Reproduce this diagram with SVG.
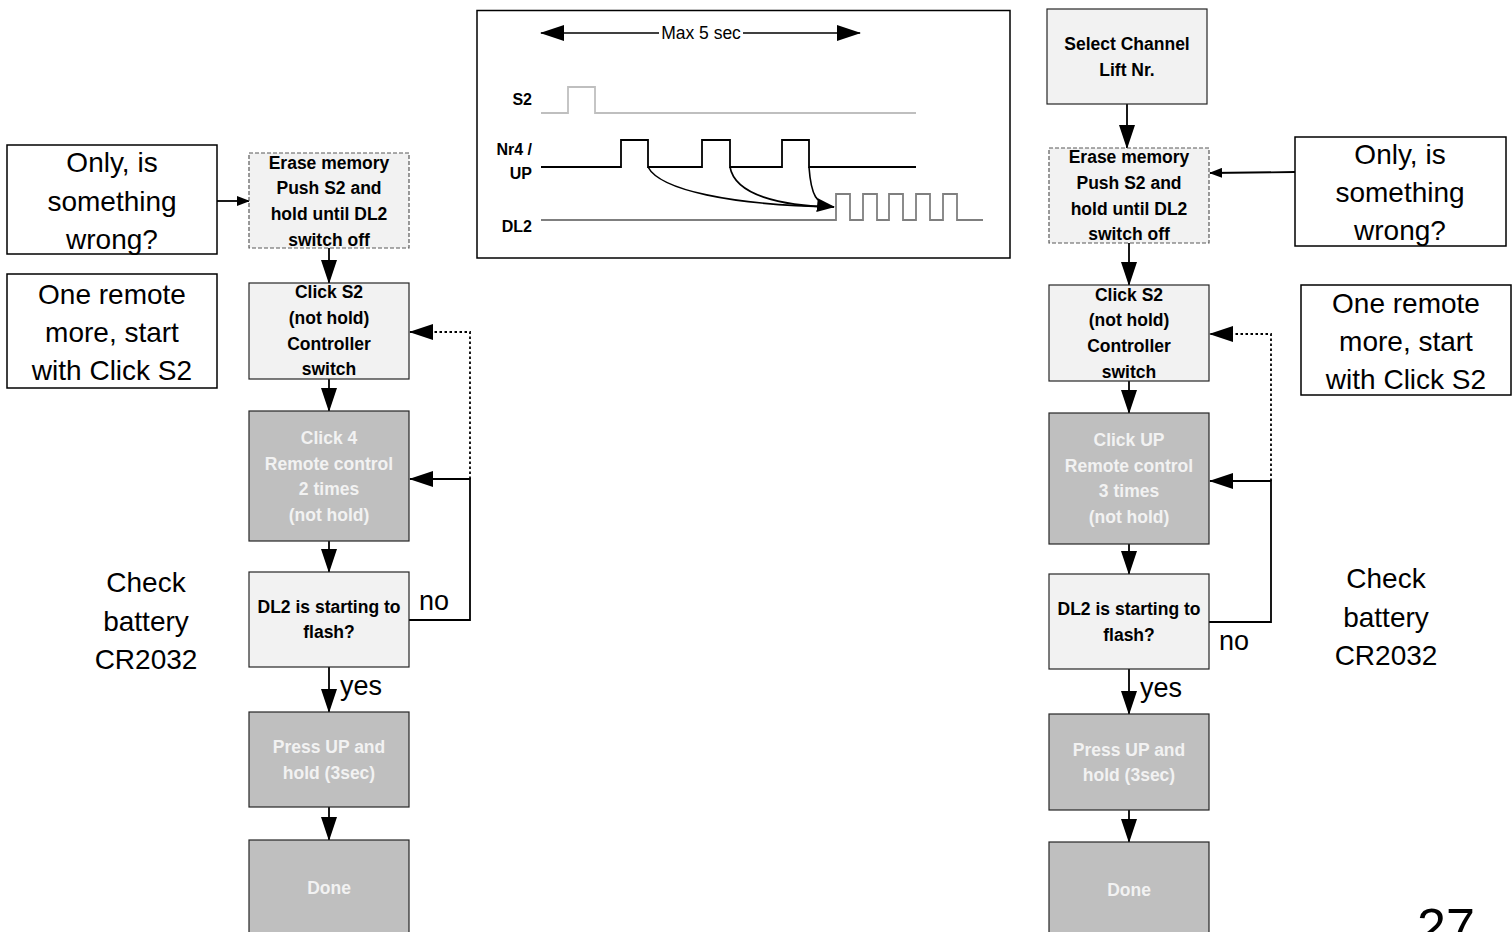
<svg xmlns="http://www.w3.org/2000/svg" width="1512" height="932" viewBox="0 0 1512 932">
<defs>
<marker id="big" markerUnits="userSpaceOnUse" markerWidth="24" markerHeight="16" refX="23" refY="8" orient="auto-start-reverse"><path d="M0,0 L24,8 L0,16 z" fill="#000"/></marker>
<marker id="small" markerUnits="userSpaceOnUse" markerWidth="13" markerHeight="10" refX="12" refY="5" orient="auto"><path d="M0,0 L13,5 L0,10 z" fill="#000"/></marker>
<marker id="mid" markerUnits="userSpaceOnUse" markerWidth="18" markerHeight="14" refX="17" refY="7" orient="auto"><path d="M0,0 L18,7 L0,14 z" fill="#000"/></marker>
<style>
.lt{fill:#f2f2f2;stroke:#262626;stroke-width:1.2}
.dk{fill:#bfbfbf;stroke:#262626;stroke-width:1.2}
.dash{fill:#f2f2f2;stroke:#595959;stroke-width:1.2;stroke-dasharray:4 2}
.note{fill:#fff;stroke:#000;stroke-width:1.5}
.bt{font-family:"Liberation Sans",Arial,sans-serif;font-weight:bold;font-size:17.5px;text-anchor:middle;fill:#000}
.wt{font-family:"Liberation Sans",Arial,sans-serif;font-weight:bold;font-size:17.5px;text-anchor:middle;fill:#f2f2f2}
.big{font-family:"Liberation Sans",Arial,sans-serif;font-size:28px;text-anchor:middle;fill:#000}
.lbl{font-family:"Liberation Sans",Arial,sans-serif;font-size:27px;fill:#000}
.tl{font-family:"Liberation Sans",Arial,sans-serif;font-weight:bold;font-size:16px;text-anchor:end;fill:#000}
.ln{fill:none;stroke:#000;stroke-width:1.8}
.dot{fill:none;stroke:#000;stroke-width:1.8;stroke-dasharray:2.5 2.5}
</style>
</defs>

<g id="timing">
<rect x="477" y="10.5" width="533" height="247.5" fill="#fff" stroke="#000" stroke-width="1.5"/>
<line x1="541" y1="33" x2="659" y2="33" stroke="#000" stroke-width="1.5" marker-start="url(#big)"/>
<line x1="743" y1="33" x2="860" y2="33" stroke="#000" stroke-width="1.5" marker-end="url(#big)"/>
<text x="701" y="39" font-family="Liberation Sans,Arial,sans-serif" font-size="17.5px" text-anchor="middle">Max 5 sec</text>
<text class="tl" x="532" y="105">S2</text>
<text class="tl" x="532" y="155">Nr4 /</text>
<text class="tl" x="532" y="179">UP</text>
<text class="tl" x="532" y="232">DL2</text>
<path d="M541,113 H568 V87 H595 V113 H916" fill="none" stroke="#bfbfbf" stroke-width="1.8"/>
<path d="M541,167 H621 V140 H648 V167 H702 V140 H730 V167 H782 V140 H809 V167 H916" fill="none" stroke="#000" stroke-width="1.8"/>
<path d="M541,220 H836 V194 H850 V220 H863 V194 H877 V220 H889 V194 H903 V220 H916 V194 H930 V220 H943 V194 H957 V220 H983" fill="none" stroke="#7f7f7f" stroke-width="1.8"/>
<path d="M648,167 C660,190 730,205 834,207" fill="none" stroke="#000" stroke-width="1.6"/>
<path d="M730,167 C735,195 780,206 834,207" fill="none" stroke="#000" stroke-width="1.6"/>
<path d="M809,167 C811,195 816,205 834,207" fill="none" stroke="#000" stroke-width="1.6" marker-end="url(#mid)"/>
</g>

<g id="connectors">
<line class="ln" x1="217" y1="201" x2="249" y2="201" stroke-width="1.2" marker-end="url(#small)"/>
<line class="ln" x1="329" y1="248" x2="329" y2="283" marker-end="url(#big)"/>
<line class="ln" x1="329" y1="379" x2="329" y2="411" marker-end="url(#big)"/>
<line class="ln" x1="329" y1="541" x2="329" y2="572" marker-end="url(#big)"/>
<line class="ln" x1="329" y1="667" x2="329" y2="712" marker-end="url(#big)"/>
<line class="ln" x1="329" y1="807" x2="329" y2="840" marker-end="url(#big)"/>
<polyline class="ln" points="409,620 470,620 470,479 410,479" marker-end="url(#big)"/>
<polyline class="dot" points="470,479 470,332 410,332" marker-end="url(#big)"/>

<line class="ln" x1="1127" y1="104" x2="1127" y2="148" marker-end="url(#big)"/>
<line class="ln" x1="1295" y1="172" x2="1210" y2="173" stroke-width="1.2" marker-end="url(#small)"/>
<line class="ln" x1="1129" y1="243" x2="1129" y2="285" marker-end="url(#big)"/>
<line class="ln" x1="1129" y1="381" x2="1129" y2="413" marker-end="url(#big)"/>
<line class="ln" x1="1129" y1="544" x2="1129" y2="574" marker-end="url(#big)"/>
<line class="ln" x1="1129" y1="669" x2="1129" y2="714" marker-end="url(#big)"/>
<line class="ln" x1="1129" y1="810" x2="1129" y2="842" marker-end="url(#big)"/>
<polyline class="ln" points="1209,622 1271,622 1271,481 1210,481" marker-end="url(#big)"/>
<polyline class="dot" points="1271,481 1271,334 1210,334" marker-end="url(#big)"/>
</g>

<g id="note-left-wrong">
<rect class="note" x="7" y="145" width="210" height="109"/>
<text class="big" x="112" y="172">Only, is</text>
<text class="big" x="112" y="211">something</text>
<text class="big" x="112" y="249">wrong?</text>
</g>
<g id="note-left-remote">
<rect class="note" x="7" y="274" width="210" height="114"/>
<text class="big" x="112" y="304">One remote</text>
<text class="big" x="112" y="342">more, start</text>
<text class="big" x="112" y="380">with Click S2</text>
</g>
<g id="battery-left">
<text class="big" x="146" y="592">Check</text>
<text class="big" x="146" y="631">battery</text>
<text class="big" x="146" y="669">CR2032</text>
</g>

<g id="l-erase">
<rect class="dash" x="249" y="153" width="160" height="95"/>
<text class="bt" x="329" y="169">Erase memory</text>
<text class="bt" x="329" y="194">Push S2 and</text>
<text class="bt" x="329" y="220">hold until DL2</text>
<text class="bt" x="329" y="246">switch off</text>
</g>
<g id="l-clicks2">
<rect class="lt" x="249" y="283" width="160" height="96"/>
<text class="bt" x="329" y="298">Click S2</text>
<text class="bt" x="329" y="324">(not hold)</text>
<text class="bt" x="329" y="350">Controller</text>
<text class="bt" x="329" y="375">switch</text>
</g>
<g id="l-click4">
<rect class="dk" x="249" y="411" width="160" height="130"/>
<text class="wt" x="329" y="444">Click 4</text>
<text class="wt" x="329" y="470">Remote control</text>
<text class="wt" x="329" y="495">2 times</text>
<text class="wt" x="329" y="521">(not hold)</text>
</g>
<g id="l-dl2">
<rect class="lt" x="249" y="572" width="160" height="95"/>
<text class="bt" x="329" y="613">DL2 is starting to</text>
<text class="bt" x="329" y="638">flash?</text>
</g>
<g id="l-press">
<rect class="dk" x="249" y="712" width="160" height="95"/>
<text class="wt" x="329" y="753">Press UP and</text>
<text class="wt" x="329" y="779">hold (3sec)</text>
</g>
<g id="l-done">
<rect class="dk" x="249" y="840" width="160" height="100"/>
<text class="wt" x="329" y="894">Done</text>
</g>
<g id="l-labels">
<text class="lbl" x="419" y="610">no</text>
<text class="lbl" x="340" y="695">yes</text>
</g>

<g id="r-select">
<rect class="lt" x="1047" y="9" width="160" height="95"/>
<text class="bt" x="1127" y="50">Select Channel</text>
<text class="bt" x="1127" y="76">Lift Nr.</text>
</g>
<g id="r-erase">
<rect class="dash" x="1049" y="148" width="160" height="95"/>
<text class="bt" x="1129" y="163">Erase memory</text>
<text class="bt" x="1129" y="189">Push S2 and</text>
<text class="bt" x="1129" y="215">hold until DL2</text>
<text class="bt" x="1129" y="240">switch off</text>
</g>
<g id="r-clicks2">
<rect class="lt" x="1049" y="285" width="160" height="96"/>
<text class="bt" x="1129" y="301">Click S2</text>
<text class="bt" x="1129" y="326">(not hold)</text>
<text class="bt" x="1129" y="352">Controller</text>
<text class="bt" x="1129" y="378">switch</text>
</g>
<g id="r-clickup">
<rect class="dk" x="1049" y="413" width="160" height="131"/>
<text class="wt" x="1129" y="446">Click UP</text>
<text class="wt" x="1129" y="472">Remote control</text>
<text class="wt" x="1129" y="497">3 times</text>
<text class="wt" x="1129" y="523">(not hold)</text>
</g>
<g id="r-dl2">
<rect class="lt" x="1049" y="574" width="160" height="95"/>
<text class="bt" x="1129" y="615">DL2 is starting to</text>
<text class="bt" x="1129" y="641">flash?</text>
</g>
<g id="r-press">
<rect class="dk" x="1049" y="714" width="160" height="96"/>
<text class="wt" x="1129" y="756">Press UP and</text>
<text class="wt" x="1129" y="781">hold (3sec)</text>
</g>
<g id="r-done">
<rect class="dk" x="1049" y="842" width="160" height="100"/>
<text class="wt" x="1129" y="896">Done</text>
</g>
<g id="r-labels">
<text class="lbl" x="1219" y="650">no</text>
<text class="lbl" x="1140" y="697">yes</text>
</g>

<g id="note-right-wrong">
<rect class="note" x="1295" y="137" width="211" height="109"/>
<text class="big" x="1400" y="164">Only, is</text>
<text class="big" x="1400" y="202">something</text>
<text class="big" x="1400" y="240">wrong?</text>
</g>
<g id="note-right-remote">
<rect class="note" x="1301" y="285" width="210" height="110"/>
<text class="big" x="1406" y="313">One remote</text>
<text class="big" x="1406" y="351">more, start</text>
<text class="big" x="1406" y="389">with Click S2</text>
</g>
<g id="battery-right">
<text class="big" x="1386" y="588">Check</text>
<text class="big" x="1386" y="627">battery</text>
<text class="big" x="1386" y="665">CR2032</text>
</g>

<text x="1446" y="945" font-family="Liberation Sans,Arial,sans-serif" font-size="52px" text-anchor="middle">27</text>
</svg>
